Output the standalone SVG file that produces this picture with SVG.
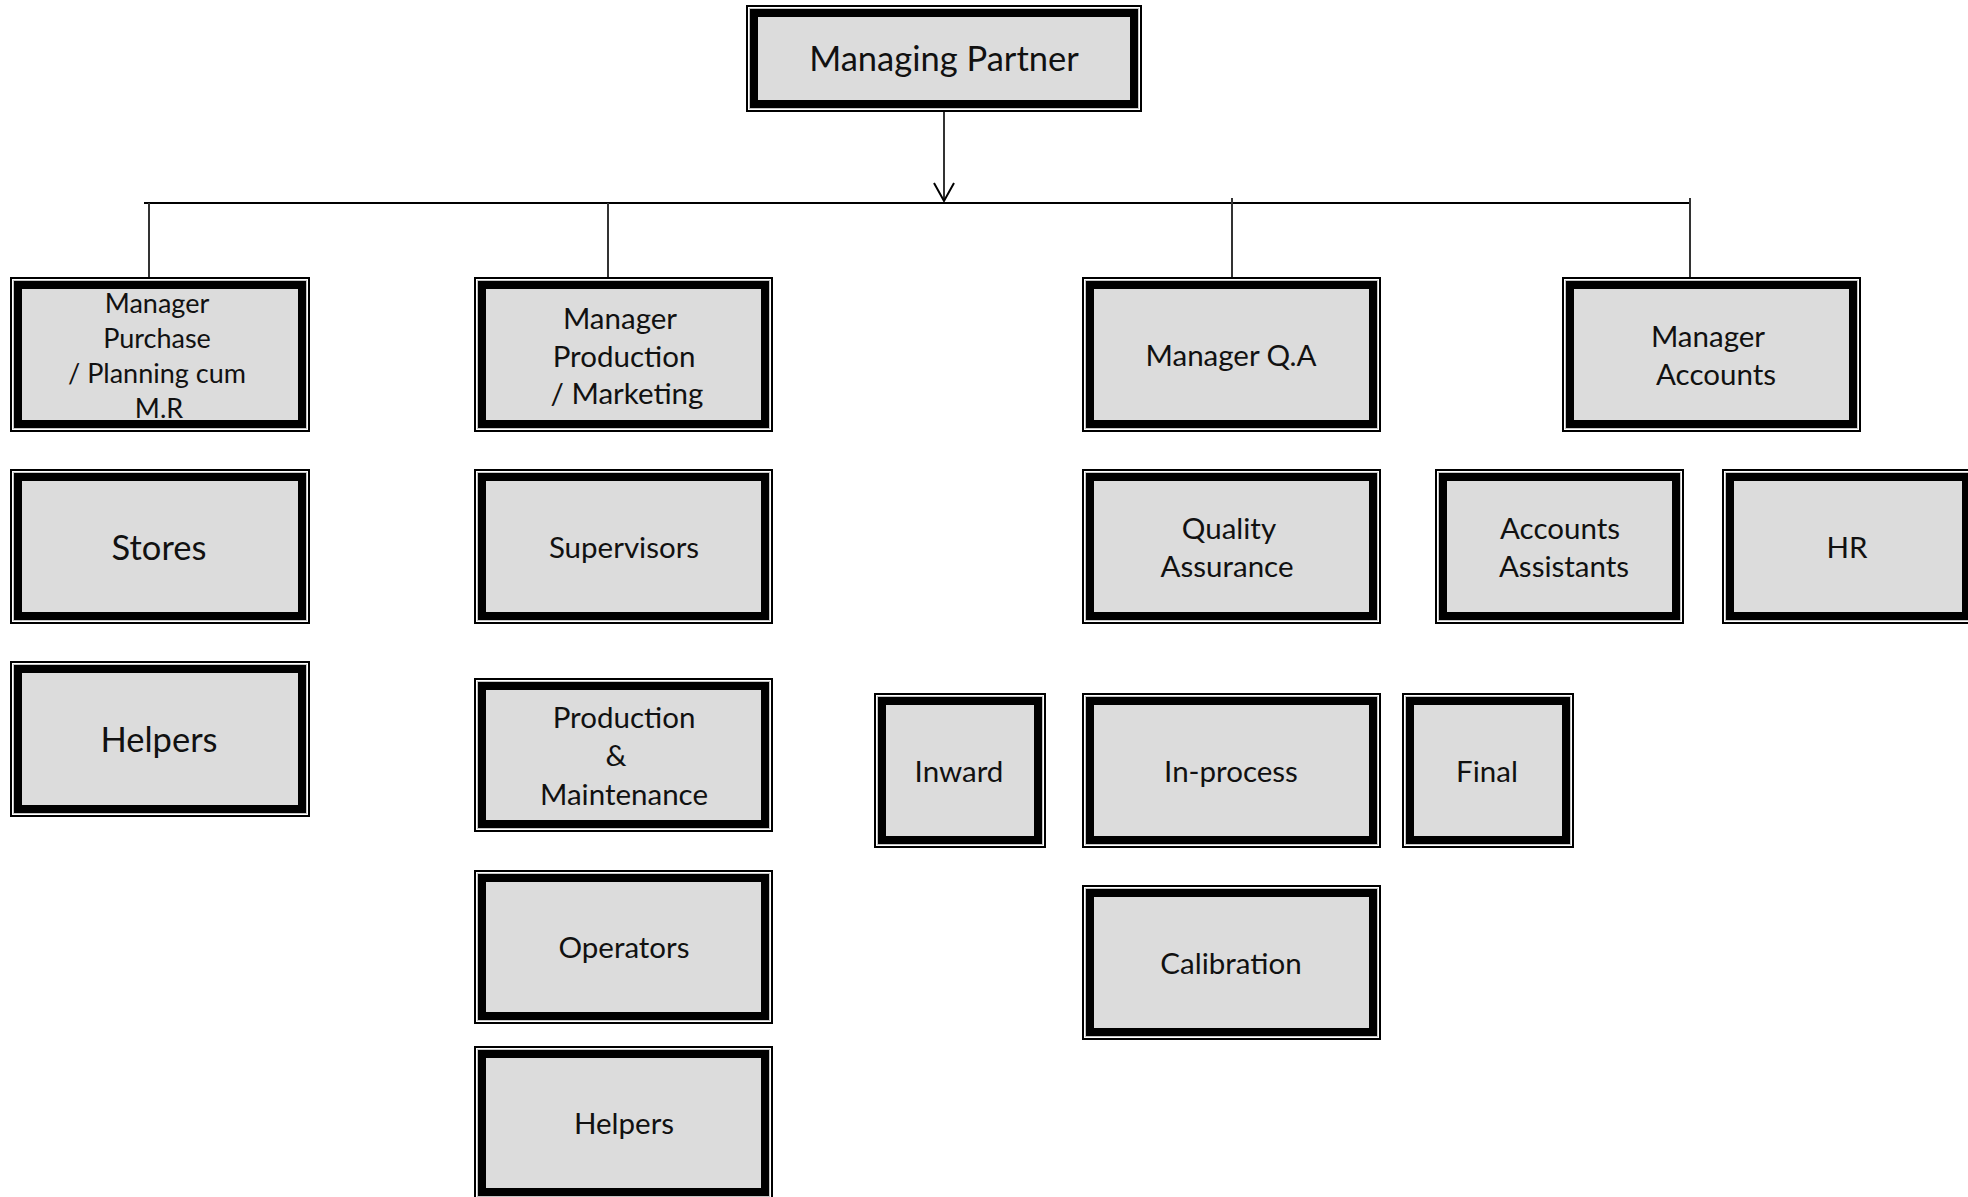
<svg xmlns="http://www.w3.org/2000/svg" width="1968" height="1197" viewBox="0 0 1968 1197">
<style>
.o{fill:#000}
.w{fill:none;stroke:#fff;stroke-width:1}
.g{fill:none;stroke:#c4c4c4;stroke-width:1}
.f{fill:#dcdcdc}
text{font-family:Lato,"Open Sans","Liberation Sans",sans-serif;fill:#111;text-anchor:middle}
.t28{font-size:29.5px}
.t26{font-size:27px}
.t33{font-size:34.5px}
.h{stroke:#000;stroke-width:2;fill:none}
.v{stroke:#333;stroke-width:2;fill:none}
</style>
<defs>
<marker id="arr" markerWidth="24" markerHeight="22" refX="11" refY="19" orient="0" markerUnits="userSpaceOnUse">
<path d="M1,1 L11,19 L21,1" fill="none" stroke="#000" stroke-width="2"/>
</marker>
</defs>
<rect width="1968" height="1197" fill="#fff"/>

<g id="connectors">
<line class="v" x1="944" y1="112" x2="944" y2="201" marker-end="url(#arr)"/>
<line class="h" x1="144" y1="203" x2="1690" y2="203"/>
<line class="v" x1="149" y1="203" x2="149" y2="277"/>
<line class="v" x1="608" y1="203" x2="608" y2="277"/>
<line class="v" x1="1232" y1="198" x2="1232" y2="277"/>
<line class="v" x1="1690" y1="198" x2="1690" y2="277"/>
</g>

<g id="managing-partner">
<rect class="o" x="746" y="5" width="396" height="107"/>
<rect class="w" x="748.5" y="7.5" width="391" height="102"/>
<rect class="g" x="749.5" y="8.5" width="389" height="100"/>
<rect class="f" x="758" y="17" width="372" height="83"/>
<text class="t33" x="944" y="71">Managing Partner</text>
</g>

<g id="manager-purchase">
<rect class="o" x="10" y="277" width="300" height="155"/>
<rect class="w" x="12.5" y="279.5" width="295" height="150"/>
<rect class="g" x="13.5" y="280.5" width="293" height="148"/>
<rect class="f" x="22" y="289" width="276" height="131"/>
<text class="t26" x="157" y="313">Manager</text>
<text class="t26" x="157" y="348">Purchase</text>
<text class="t26" x="157" y="383">/ Planning cum</text>
<text class="t26" x="159" y="418">M.R</text>
</g>

<g id="manager-production">
<rect class="o" x="474" y="277" width="299" height="155"/>
<rect class="w" x="476.5" y="279.5" width="294" height="150"/>
<rect class="g" x="477.5" y="280.5" width="292" height="148"/>
<rect class="f" x="486" y="289" width="275" height="131"/>
<text class="t28" x="620" y="329">Manager</text>
<text class="t28" x="624" y="367">Production</text>
<text class="t28" x="627" y="404">/ Marketing</text>
</g>

<g id="manager-qa">
<rect class="o" x="1082" y="277" width="299" height="155"/>
<rect class="w" x="1084.5" y="279.5" width="294" height="150"/>
<rect class="g" x="1085.5" y="280.5" width="292" height="148"/>
<rect class="f" x="1094" y="289" width="275" height="131"/>
<text class="t28" x="1231" y="366">Manager Q.A</text>
</g>

<g id="manager-accounts">
<rect class="o" x="1562" y="277" width="299" height="155"/>
<rect class="w" x="1564.5" y="279.5" width="294" height="150"/>
<rect class="g" x="1565.5" y="280.5" width="292" height="148"/>
<rect class="f" x="1574" y="289" width="275" height="131"/>
<text class="t28" x="1708" y="347">Manager</text>
<text class="t28" x="1716" y="385">Accounts</text>
</g>

<g id="stores">
<rect class="o" x="10" y="469" width="300" height="155"/>
<rect class="w" x="12.5" y="471.5" width="295" height="150"/>
<rect class="g" x="13.5" y="472.5" width="293" height="148"/>
<rect class="f" x="22" y="481" width="276" height="131"/>
<text class="t33" x="159" y="560">Stores</text>
</g>

<g id="supervisors">
<rect class="o" x="474" y="469" width="299" height="155"/>
<rect class="w" x="476.5" y="471.5" width="294" height="150"/>
<rect class="g" x="477.5" y="472.5" width="292" height="148"/>
<rect class="f" x="486" y="481" width="275" height="131"/>
<text class="t28" x="624" y="558">Supervisors</text>
</g>

<g id="quality-assurance">
<rect class="o" x="1082" y="469" width="299" height="155"/>
<rect class="w" x="1084.5" y="471.5" width="294" height="150"/>
<rect class="g" x="1085.5" y="472.5" width="292" height="148"/>
<rect class="f" x="1094" y="481" width="275" height="131"/>
<text class="t28" x="1229" y="539">Quality</text>
<text class="t28" x="1227" y="577">Assurance</text>
</g>

<g id="accounts-assistants">
<rect class="o" x="1435" y="469" width="249" height="155"/>
<rect class="w" x="1437.5" y="471.5" width="244" height="150"/>
<rect class="g" x="1438.5" y="472.5" width="242" height="148"/>
<rect class="f" x="1447" y="481" width="225" height="131"/>
<text class="t28" x="1560" y="539">Accounts</text>
<text class="t28" x="1564" y="577">Assistants</text>
</g>

<g id="hr">
<rect class="o" x="1722" y="469" width="252" height="155"/>
<rect class="w" x="1724.5" y="471.5" width="247" height="150"/>
<rect class="g" x="1725.5" y="472.5" width="245" height="148"/>
<rect class="f" x="1734" y="481" width="228" height="131"/>
<text class="t28" x="1847" y="558">HR</text>
</g>

<g id="helpers-left">
<rect class="o" x="10" y="661" width="300" height="156"/>
<rect class="w" x="12.5" y="663.5" width="295" height="151"/>
<rect class="g" x="13.5" y="664.5" width="293" height="149"/>
<rect class="f" x="22" y="673" width="276" height="132"/>
<text class="t33" x="159" y="752">Helpers</text>
</g>

<g id="production-maintenance">
<rect class="o" x="474" y="678" width="299" height="154"/>
<rect class="w" x="476.5" y="680.5" width="294" height="149"/>
<rect class="g" x="477.5" y="681.5" width="292" height="147"/>
<rect class="f" x="486" y="690" width="275" height="130"/>
<text class="t28" x="624" y="728">Production</text>
<text class="t28" x="616" y="766">&amp;</text>
<text class="t28" x="624" y="805">Maintenance</text>
</g>

<g id="inward">
<rect class="o" x="874" y="693" width="172" height="155"/>
<rect class="w" x="876.5" y="695.5" width="167" height="150"/>
<rect class="g" x="877.5" y="696.5" width="165" height="148"/>
<rect class="f" x="886" y="705" width="148" height="131"/>
<text class="t28" x="959" y="782">Inward</text>
</g>

<g id="in-process">
<rect class="o" x="1082" y="693" width="299" height="155"/>
<rect class="w" x="1084.5" y="695.5" width="294" height="150"/>
<rect class="g" x="1085.5" y="696.5" width="292" height="148"/>
<rect class="f" x="1094" y="705" width="275" height="131"/>
<text class="t28" x="1231" y="782">In-process</text>
</g>

<g id="final">
<rect class="o" x="1402" y="693" width="172" height="155"/>
<rect class="w" x="1404.5" y="695.5" width="167" height="150"/>
<rect class="g" x="1405.5" y="696.5" width="165" height="148"/>
<rect class="f" x="1414" y="705" width="148" height="131"/>
<text class="t28" x="1487" y="782">Final</text>
</g>

<g id="operators">
<rect class="o" x="474" y="870" width="299" height="154"/>
<rect class="w" x="476.5" y="872.5" width="294" height="149"/>
<rect class="g" x="477.5" y="873.5" width="292" height="147"/>
<rect class="f" x="486" y="882" width="275" height="130"/>
<text class="t28" x="624" y="958">Operators</text>
</g>

<g id="calibration">
<rect class="o" x="1082" y="885" width="299" height="155"/>
<rect class="w" x="1084.5" y="887.5" width="294" height="150"/>
<rect class="g" x="1085.5" y="888.5" width="292" height="148"/>
<rect class="f" x="1094" y="897" width="275" height="131"/>
<text class="t28" x="1231" y="974">Calibration</text>
</g>

<g id="helpers-mid">
<rect class="o" x="474" y="1046" width="299" height="154"/>
<rect class="w" x="476.5" y="1048.5" width="294" height="149"/>
<rect class="g" x="477.5" y="1049.5" width="292" height="147"/>
<rect class="f" x="486" y="1058" width="275" height="130"/>
<text class="t28" x="624" y="1134">Helpers</text>
</g>
</svg>
